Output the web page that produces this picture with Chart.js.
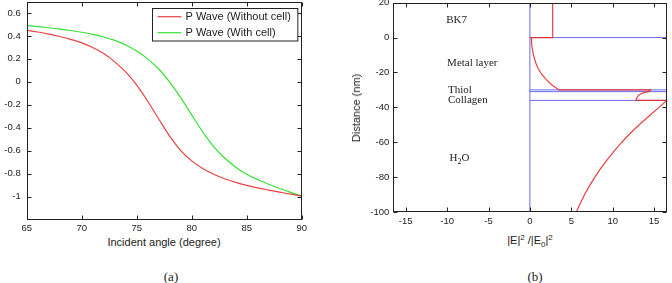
<!DOCTYPE html>
<html>
<head>
<meta charset="utf-8">
<script src="https://cdn.jsdelivr.net/npm/chart.js@4.4.0/dist/chart.umd.min.js"></script>
<style>
  body { margin:0; background:#fff; width:672px; height:283px; position:relative; overflow:hidden;
         font-family:"Liberation Sans", Arial, sans-serif; color:#222; }
  canvas { position:absolute; top:0; }
  #chartA { left:0; }
  #chartB { left:336px; }
  .lbl { position:absolute; font-size:11px; white-space:nowrap; transform:translate(-50%,-50%); }
  .lbl sup, .lbl sub { font-size:8px; }
  .rot { transform:translate(-50%,-50%) rotate(-90deg); }
  .cap { position:absolute; font-family:"Liberation Serif", "Times New Roman", serif; font-size:13px;
         transform:translate(-50%,-50%); }
</style>
</head>
<body>
<canvas id="chartA" width="336" height="232"></canvas>
<canvas id="chartB" width="336" height="232"></canvas>

<div class="lbl" style="left:164px; top:241.5px">Incident angle (degree)</div>
<div class="lbl" style="left:530px; top:241px">|E|<sup>2</sup> /|E<sub>0</sub>|<sup>2</sup></div>
<div class="lbl rot" style="left:356px; top:108px">Distance (nm)</div>
<div class="cap" style="left:171px; top:277px">(a)</div>
<div class="cap" style="left:535px; top:277px">(b)</div>

<script>
// (a) reflection coefficient vs incident angle
const angles = [65,66,67,68,69,70,71,72,73,74,75,76,77,78,79,80,81,82,83,84,85,86,87,88,89,90];
const pWithoutCell = [0.450,0.434,0.416,0.395,0.370,0.339,0.299,0.246,0.174,0.086,-0.029,-0.169,-0.324,
                      -0.474,-0.599,-0.689,-0.755,-0.805,-0.845,-0.877,-0.903,-0.925,-0.944,-0.962,-0.979,-0.996];
const pWithCell = [0.490,0.481,0.471,0.460,0.447,0.432,0.414,0.391,0.361,0.321,0.268,0.200,0.112,
                   -0.003,-0.138,-0.288,-0.436,-0.564,-0.664,-0.744,-0.806,-0.852,-0.893,-0.930,-0.964,-0.995];
const angleTicks = [65,70,75,80,85,90];
const coefTicks = [-1,-0.8,-0.6,-0.4,-0.2,0,0.2,0.4,0.6];
const seriesNames = ['P Wave (Without cell)', 'P Wave (With cell)'];

// (b) field intensity profile through the layers
const profDepth = [20,0,0,-3,-6,-9,-12,-15,-18,-21,-24,-27,-30,-30,-30.5,-31,-31.8,-33,-34.5,-36,
                   -36,-37,-40,-45,-50,-55,-60,-65,-70,-75,-80,-85,-90,-95,-100];
const profField = [2.75,2.75,0.15,0.2,0.28,0.39,0.54,0.75,1.02,1.42,1.95,2.62,3.5,14.6,14.45,14.3,13.6,13.15,12.9,12.8,
                   16.5,16.3,15.6,14.4,13.2,12.1,11.1,10.2,9.35,8.55,7.85,7.2,6.6,6.1,5.6];
const boundaries = [0,-30,-31,-36];
const fieldTicks = [-15,-10,-5,0,5,10,15];
const depthTicks = [-100,-80,-60,-40,-20,0,20];
const fieldLimit = 16.5;
const depthLimits = [-100, 20];

const RED = 'rgba(232,45,45,0.9)';
const GREEN = 'rgb(55,225,55)';
const BLUE = 'rgb(105,105,235)';
const INK = '#222';

// box around plot + inward ticks on all four sides
const frame = {
  id: 'frame',
  afterDatasetsDraw(chart) {
    const {ctx, chartArea: a, scales} = chart;
    const L = Math.round(a.left) + 0.5, R = Math.round(a.right) - 0.5;
    const T = Math.round(a.top) + 0.5, B = Math.round(a.bottom) - 0.5;
    ctx.save();
    ctx.strokeStyle = INK;
    ctx.lineWidth = 1;
    ctx.beginPath();
    scales.x.ticks.forEach(t => {
      const px = Math.round(scales.x.getPixelForValue(t.value)) + 0.5;
      ctx.moveTo(px, B); ctx.lineTo(px, B - 4);
      ctx.moveTo(px, T); ctx.lineTo(px, T + 4);
    });
    scales.y.ticks.forEach(t => {
      const py = Math.round(scales.y.getPixelForValue(t.value)) + 0.5;
      ctx.moveTo(L, py); ctx.lineTo(L + 4, py);
      ctx.moveTo(R, py); ctx.lineTo(R - 4, py);
    });
    ctx.stroke();
    ctx.strokeRect(L, T, R - L, B - T);
    ctx.restore();
  }
};

// matlab-like boxed legend in the top right corner
const boxLegend = {
  id: 'boxLegend',
  afterDraw(chart, args, opts) {
    if (!opts.show) return;
    const {ctx, chartArea: a} = chart;
    ctx.save();
    ctx.font = '11px "Liberation Sans", Arial, sans-serif';
    const sets = chart.data.datasets;
    const tw = Math.max(...sets.map(d => ctx.measureText(d.label).width));
    const w = 5 + 24 + 4 + tw + 7, h = 32.5;
    const x = Math.round(a.right - 4 - w) + 0.5, y = Math.round(a.top + 6) + 0.5;
    ctx.fillStyle = '#fff';
    ctx.fillRect(x, y, w, h);
    ctx.strokeStyle = INK;
    ctx.lineWidth = 1;
    ctx.strokeRect(x, y, w, h);
    ctx.textBaseline = 'middle';
    sets.forEach((d, i) => {
      const ly = y + 8.2 + i * 16;
      ctx.strokeStyle = d.borderColor;
      ctx.lineWidth = 1.2;
      ctx.beginPath(); ctx.moveTo(x + 5, ly); ctx.lineTo(x + 29, ly); ctx.stroke();
      ctx.fillStyle = INK;
      ctx.fillText(d.label, x + 33, ly);
    });
    ctx.restore();
  }
};

// layer names written inside panel (b)
const layerNotes = [
  {text: 'BK7', x: -10.1, y: 10.1},
  {text: 'Metal layer', x: -10.0, y: -14.7},
  {text: 'Thiol', x: -9.9, y: -30.0},
  {text: 'Collagen', x: -9.9, y: -35.8},
  {text: 'H|2|O', x: -9.7, y: -69.2}
];
const notes = {
  id: 'notes',
  afterDraw(chart, args, opts) {
    if (!opts.show) return;
    const {ctx, scales} = chart;
    ctx.save();
    ctx.fillStyle = INK;
    ctx.textBaseline = 'middle';
    layerNotes.forEach(n => {
      let px = scales.x.getPixelForValue(n.x);
      const py = scales.y.getPixelForValue(n.y);
      n.text.split('|').forEach((part, i) => {
        const sub = i % 2 === 1;
        ctx.font = (sub ? '8px' : '11px') + ' "Liberation Serif", "Times New Roman", serif';
        ctx.fillText(part, px, py + (sub ? 4 : 0));
        px += ctx.measureText(part).width;
      });
    });
    ctx.restore();
  }
};

function axis(min, max, ticks, horizontal, size, pad) {
  return {
    type: 'linear', min: min, max: max,
    grid: {display: false, drawTicks: false},
    border: {display: false},
    ticks: {
      autoSkip: false, maxRotation: 0, padding: pad, color: INK,
      font: {family: '"Liberation Sans", Arial, sans-serif', size: 9.5},
      callback: v => String(v)
    },
    afterBuildTicks: s => { s.ticks = ticks.map(v => ({value: v})); },
    afterFit: s => {
      if (horizontal) { s.height = size; s.paddingLeft = 0; s.paddingRight = 0; }
      else { s.width = size; s.paddingTop = 0; s.paddingBottom = 0; }
    }
  };
}

const common = {
  responsive: false,
  animation: false,
  events: [],
  elements: {point: {radius: 0}, line: {borderWidth: 1.2}},
  plugins: {legend: {display: false}, tooltip: {enabled: false}}
};

new Chart(document.getElementById('chartA'), {
  type: 'line',
  data: {
    datasets: [
      {label: seriesNames[0], data: angles.map((a, i) => ({x: a, y: pWithoutCell[i]})),
       borderColor: RED, cubicInterpolationMode: 'monotone'},
      {label: seriesNames[1], data: angles.map((a, i) => ({x: a, y: pWithCell[i]})),
       borderColor: GREEN, cubicInterpolationMode: 'monotone'}
    ]
  },
  options: Object.assign({}, common, {
    layout: {padding: {left: 0, right: 34.3, top: 1.5, bottom: 0}},
    scales: {
      x: axis(65, 90, angleTicks, true, 12.5, 3),
      y: axis(-1.2, 0.7, coefTicks, false, 26.7, 6)
    },
    plugins: Object.assign({}, common.plugins, {boxLegend: {show: true}, notes: {show: false}})
  }),
  plugins: [frame, boxLegend, notes]
});

const layerLines = boundaries.map(b => ({
  label: 'boundary ' + b, data: [{x: 0, y: b}, {x: fieldLimit, y: b}],
  borderColor: BLUE, showLine: true, borderWidth: 1
}));

new Chart(document.getElementById('chartB'), {
  type: 'scatter',
  data: {
    datasets: [
      {label: '|E|^2', data: profDepth.map((d, i) => ({x: profField[i], y: d})),
       borderColor: RED, showLine: true, tension: 0},
      {label: 'axis', data: [{x: 0, y: depthLimits[0]}, {x: 0, y: depthLimits[1]}],
       borderColor: BLUE, showLine: true, borderWidth: 1}
    ].concat(layerLines)
  },
  options: Object.assign({}, common, {
    layout: {padding: {left: 0, right: 5.5, top: 2.7, bottom: 0}},
    scales: {
      x: axis(-fieldLimit, fieldLimit, fieldTicks, true, 20, 4),
      y: axis(depthLimits[0], depthLimits[1], depthTicks, false, 57.3, 4)
    },
    plugins: Object.assign({}, common.plugins, {boxLegend: {show: false}, notes: {show: true}})
  }),
  plugins: [frame, boxLegend, notes]
});
</script>
</body>
</html>
